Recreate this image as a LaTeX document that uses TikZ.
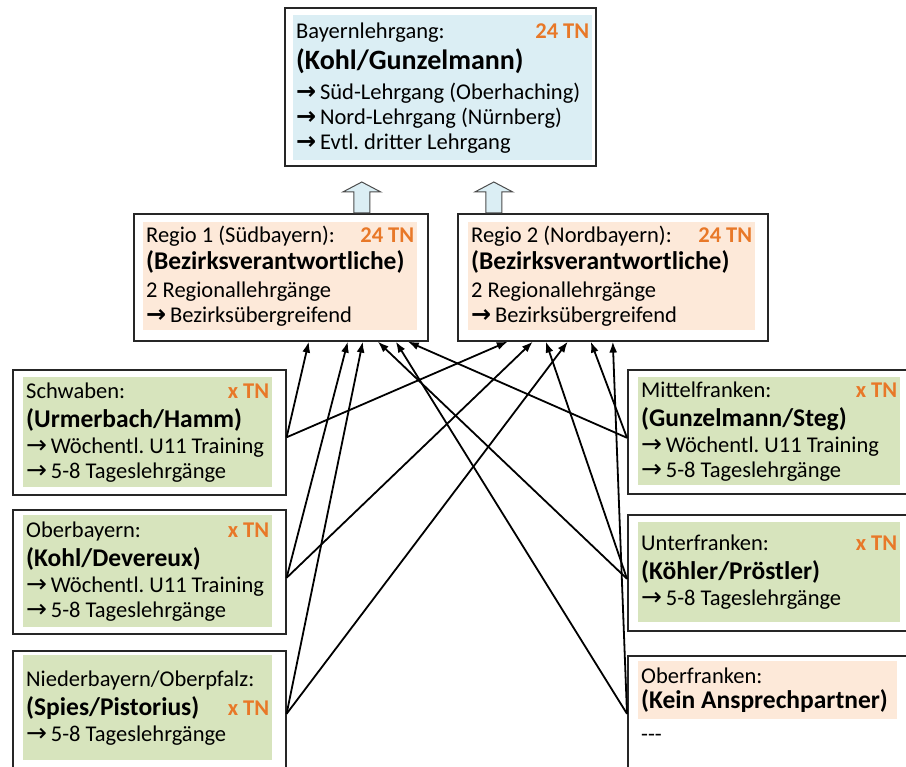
\documentclass[tikz,border=0pt]{standalone}
\usepackage{fontspec}
\setmainfont{Carlito}
\newfontfamily\pfeilfont{DejaVu Sans}
\usetikzlibrary{positioning,arrows.meta}
\definecolor{hellblau}{RGB}{219,238,244}
\definecolor{pfirsich}{RGB}{253,233,217}
\definecolor{hellgruen}{RGB}{215,228,189}
\definecolor{tnorange}{RGB}{232,120,40}

\newcommand{\tn}[1]{\hfill{\color{tnorange}\textbf{#1}}}
\newcommand{\kopf}[1]{{\fontsize{25.5}{28}\selectfont\textbf{#1}}}
\newcommand{\pf}{{\pfeilfont\fontsize{25}{20}\selectfont →}\,}
\newcommand{\pfb}{{\pfeilfont\bfseries\fontsize{24}{20}\selectfont →}\,}
\newcommand{\hohlpfeil}[1]{%
  \draw[line width=1pt,draw=black!70,fill=hellblau] #1 ++(-8,0) -- ++(0,-21) -- ++(-11,0) -- ++(19,-10)
    -- ++(19,10) -- ++(-11,0) -- ++(0,21) -- cycle;}

\tikzset{
  rahmen/.style={draw=black!85,line width=1.6pt,anchor=north west,inner sep=0pt},
  inhalt/.style={anchor=north west,inner xsep=3pt,inner ysep=1pt,align=flush left,
    font=\fontsize{22.5}{25}\selectfont\frenchspacing},
  pfeil/.style={-{Latex[length=11pt,width=8pt]},line width=1.8pt},
}

\begin{document}
\begin{tikzpicture}[x=1pt,y=-1pt]
    \useasboundingbox (0,0) rectangle (906,767);

    % oben
    \node[rahmen,minimum width=311pt,minimum height=158pt] (bayern) at (284,7) {};
    \node[inhalt,fill=hellblau,text width=293pt,minimum height=145pt] (bayerntext) at (293,15)
        {Bayernlehrgang: \tn{24 TN}\\[6pt] {\fontsize{28}{30}\selectfont\textbf{(Kohl/Gunzelmann)}}\\[5pt]
         \pfb Süd-Lehrgang (Oberhaching)\\ \pfb Nord-Lehrgang (Nürnberg)\\ \pfb Evtl. dritter Lehrgang};

    % Regionen
    \node[rahmen,minimum width=294pt,minimum height=127pt] (regio1) at (133,213) {};
    \node[inhalt,fill=pfirsich,text width=268pt,minimum height=108pt] (regio1text) at (143,222)
        {Regio 1 (Südbayern): \tn{24 TN}\\[2pt] \kopf{(Bezirksverantwortliche)}\\[3pt] 2 Regionallehrgänge\\
         \pfb Bezirksübergreifend};
    \node[rahmen,minimum width=310pt,minimum height=127pt] (regio2) at (457,213) {};
    \node[inhalt,fill=pfirsich,text width=281pt,minimum height=108pt] (regio2text) at (468,222)
        {Regio 2 (Nordbayern): \tn{24 TN}\\[2pt] \kopf{(Bezirksverantwortliche)}\\[3pt] 2 Regionallehrgänge\\
         \pfb Bezirksübergreifend};

    \hohlpfeil{([xshift=81pt]regio1.north)}
    \hohlpfeil{([xshift=-119pt]regio2.north)}

    % Bezirke links
    \node[rahmen,minimum width=273pt,minimum height=125pt] (schwaben) at (12,369) {};
    \node[inhalt,fill=hellgruen,text width=243pt,minimum height=110pt] (schwabentext) at (23,377)
        {Schwaben: \tn{x TN}\\[4pt] \kopf{(Urmerbach/Hamm)}\\[1pt] \pf Wöchentl. U11 Training\\ \pf 5-8 Tageslehrgänge};
    \node[rahmen,minimum width=273pt,minimum height=124pt] (oberbayern) at (12,509) {};
    \node[inhalt,fill=hellgruen,text width=243pt,minimum height=112pt] (oberbayerntext) at (23,515)
        {Oberbayern: \tn{x TN}\\[4pt] \kopf{(Kohl/Devereux)}\\[1pt] \pf Wöchentl. U11 Training\\ \pf 5-8 Tageslehrgänge};
    \node[rahmen,minimum width=273pt,minimum height=120pt] (niederbayern) at (12,650) {};
    \node[inhalt,fill=hellgruen,text width=243pt,minimum height=105pt] (niederbayerntext) at (23,655)
        {Niederbayern/Oberpfalz:\\[4pt] \kopf{(Spies/Pistorius)} \tn{x TN}\\[1pt] \pf 5-8 Tageslehrgänge};

    % Bezirke rechts
    \node[rahmen,minimum width=280pt,minimum height=124pt] (mittelfranken) at (627,369) {};
    \node[inhalt,fill=hellgruen,text width=256pt,minimum height=108pt] (mittelfrankentext) at (638,377)
        {Mittelfranken: \tn{x TN}\\[4pt] \kopf{(Gunzelmann/Steg)}\\[1pt] \pf Wöchentl. U11 Training\\ \pf 5-8 Tageslehrgänge};
    \node[rahmen,minimum width=280pt,minimum height=116pt] (unterfranken) at (627,514) {};
    \node[inhalt,fill=hellgruen,text width=256pt,minimum height=100pt] (unterfrankentext) at (638,522)
        {Unterfranken: \tn{x TN}\\[4pt] \kopf{(Köhler/Pröstler)}\\[1pt] \pf 5-8 Tageslehrgänge};
    \node[rahmen,minimum width=280pt,minimum height=114pt] (oberfranken) at (627,655) {};
    \node[inhalt,fill=pfirsich,text width=253pt,minimum height=58pt] (oberfrankentext) at (638,661)
        {Oberfranken:\\ \kopf{(Kein Ansprechpartner)}};
    \node[inhalt,below=14pt of oberfrankentext.south west,anchor=north west] (oberfrankenrest) {-{}-{}-};

    % Verbindungen
    \draw[pfeil] ([yshift=-5pt]schwaben.east) -- ([xshift=28pt]regio1.south);
    \draw[pfeil] ([yshift=-5pt]schwaben.east) -- ([xshift=-105pt]regio2.south);
    \draw[pfeil] ([yshift=-6pt]oberbayern.east) -- ([xshift=67pt]regio1.south);
    \draw[pfeil] ([yshift=-6pt]oberbayern.east) -- ([xshift=-80pt]regio2.south);
    \draw[pfeil] ([yshift=-3pt]niederbayern.east) -- ([xshift=82pt]regio1.south);
    \draw[pfeil] ([yshift=-3pt]niederbayern.east) -- ([xshift=-45pt]regio2.south);
    \draw[pfeil] ([yshift=-6pt]mittelfranken.west) -- ([xshift=127pt]regio1.south);
    \draw[pfeil] ([yshift=-6pt]mittelfranken.west) -- ([xshift=-22pt]regio2.south);
    \draw[pfeil] ([yshift=-6pt]unterfranken.west) -- ([xshift=97pt]regio1.south);
    \draw[pfeil] ([yshift=-6pt]unterfranken.west) -- ([xshift=-67pt]regio2.south);
    \draw[pfeil] ([yshift=-1pt]oberfranken.west) -- ([xshift=115pt]regio1.south);
    \draw[pfeil] ([yshift=-1pt]oberfranken.west) -- (regio2.south);
\end{tikzpicture}
\end{document}
